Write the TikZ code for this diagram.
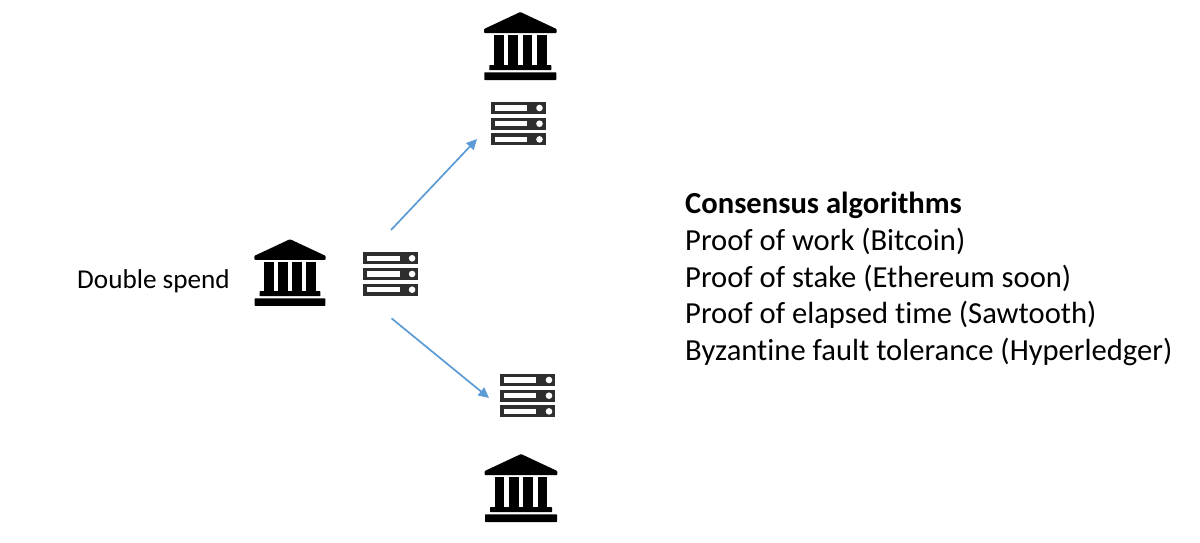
\documentclass[tikz,border=0pt]{standalone}
\usepackage{fontspec}
\setmainfont[Ligatures=NoCommon]{Carlito}
\usetikzlibrary{arrows.meta}
\definecolor{arrowblue}{HTML}{5B9BD5}
\definecolor{rack}{HTML}{2E2E2E}
\tikzset{
  holder/.style={inner sep=0pt,outer sep=0pt,minimum width=#1},
  flow/.style={draw=arrowblue,line width=1.7pt,-{Triangle[length=10.5pt,width=10pt]}},
  label/.style={anchor=base west,inner sep=0pt,font=\fontsize{30.6}{36}\selectfont},
}
\newcommand{\bankat}[3]{%
  \node[holder=73pt,minimum height=68pt] (#1) at (#2) {};
  \begin{scope}[shift={(#1.center)},scale=#3]
    \fill[black,rounded corners=0.8pt] (0,-34) -- (36.3,-17) -- (36.3,-13) -- (-36.3,-13) -- (-36.3,-17) -- cycle;
    \fill[black] (-26.5,-11) rectangle (-16.8,19.5);
    \fill[black] (-12.2,-11) rectangle (-2.4,19.5);
    \fill[black] (2.2,-11) rectangle (11.9,19.5);
    \fill[black] (16.5,-11) rectangle (26.2,19.5);
    \fill[black,rounded corners=0.6pt] (-31,19) rectangle (31,24.2);
    \fill[black,rounded corners=0.6pt] (-36,26.3) rectangle (36,34);
  \end{scope}}
\newcommand{\serverat}[2]{%
  \node[holder=55pt,minimum height=44pt] (#1) at (#2) {};
  \begin{scope}[shift={(#1.center)}]
    \foreach \yy in {-15.7,0,15.7}{
      \fill[rack] (-27.5,\yy-6) rectangle (27.5,\yy+6);
      \fill[white] (-23.5,\yy-2.7) rectangle (8.7,\yy+2.7);
      \fill[white] (21.3,\yy) circle (3.3);
    }
  \end{scope}}
\begin{document}
\begin{tikzpicture}[x=1pt,y=-1pt]
\useasboundingbox (0,0) rectangle (1200,542);
\bankat{bankL}{290,272.5}{0.98}
\bankat{bankT}{520.3,46}{1}
\bankat{bankB}{521,488}{1}
\serverat{srvL}{390.8,274}
\serverat{srvT}{518.2,123.7}
\serverat{srvB}{527.7,395.7}
\coordinate (upstart) at (391,230);
\coordinate (upend) at (477,139);
\coordinate (downstart) at (391.5,318.3);
\coordinate (downend) at (489,398);
\draw[flow] (upstart) -- (upend);
\draw[flow] (downstart) -- (downend);
\node[label,font=\fontsize{27.2}{32}\selectfont] (ds) at (77,288) {Double spend};
\node[label] (t0) at (685,213.7) {\textbf{Consensus algorithms}};
\node[label] (t1) at (685,250.7) {Proof of work (Bitcoin)};
\node[label] (t2) at (685,287.2) {Proof of stake (Ethereum soon)};
\node[label] (t3) at (685,323.7) {Proof of elapsed time (Sawtooth)};
\node[label] (t4) at (685,360.7) {Byzantine fault tolerance (Hyperledger)};
\end{tikzpicture}
\end{document}
